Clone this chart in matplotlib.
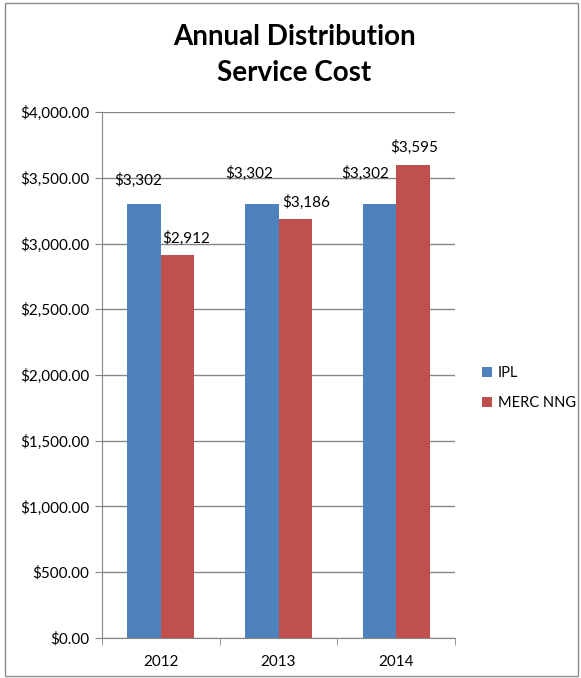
import matplotlib.pyplot as plt
import numpy as np

anos = ['2012', '2013', '2014']
ipl = [3302, 3302, 3302]
merc = [2912, 3186, 3595]
series = ['IPL', 'MERC NNG']

plt.rcParams['font.family'] = ['Lato', 'DejaVu Sans']

fig = plt.figure(figsize=(5.81, 6.78), dpi=100)
ax = fig.add_axes([0.1756, 0.059, 0.6076, 0.7758])

# borda externa do grafico
fig.patches.append(plt.Rectangle((0.008, 0.003), 0.986, 0.992, transform=fig.transFigure,
                                 fill=False, edgecolor='#8c8c8c', linewidth=1))

x = np.arange(len(anos))
w = 0.285
b1 = ax.bar(x - w / 2, ipl, w, color='#4F81BD', label=series[0], zorder=3)
b2 = ax.bar(x + w / 2, merc, w, color='#C0504D', label=series[1], zorder=3)

# rotulos (deslocamentos em pontos, como no original)
off_ipl = [(-4, 17), (-9, 22), (-10, 22)]
off_merc = [(6, 12), (8, 12), (1, 13)]
for rect, v, o in zip(b1, ipl, off_ipl):
    ax.annotate('${:,.0f}'.format(v), (rect.get_x() + rect.get_width() / 2, v),
                xytext=o, textcoords='offset points', ha='center', va='center', fontsize=11)
for rect, v, o in zip(b2, merc, off_merc):
    ax.annotate('${:,.0f}'.format(v), (rect.get_x() + rect.get_width() / 2, v),
                xytext=o, textcoords='offset points', ha='center', va='center', fontsize=11)

ax.set_xlim(-0.5, 2.5)
ax.set_ylim(0, 4000)
ax.set_yticks(np.arange(0, 4001, 500))
ax.set_yticklabels(['${:,.2f}'.format(t) for t in np.arange(0, 4001, 500)], fontsize=11)
ax.set_xticks(x)
ax.set_xticklabels(anos, fontsize=11)
ax.tick_params(axis='x', length=0, pad=12)
ax.set_xticks([-0.5, 0.5, 1.5, 2.5], minor=True)
ax.tick_params(axis='x', which='minor', length=5, color='#868686')
ax.tick_params(axis='y', length=5, color='#868686', pad=4)
ax.grid(axis='y', color='#868686', linewidth=1, zorder=0)
for s in ['top', 'right']:
    ax.spines[s].set_visible(False)
for s in ['left', 'bottom']:
    ax.spines[s].set_color('#868686')

fig.text(0.507, 0.945, 'Annual Distribution', ha='center', va='center', fontsize=20, fontweight='bold')
fig.text(0.507, 0.892, 'Service Cost', ha='center', va='center', fontsize=20, fontweight='bold')

fig.legend(loc='center left', bbox_to_anchor=(0.829, 0.428), frameon=False, fontsize=10.5,
           borderpad=0, borderaxespad=0,
           handlelength=0.7, handleheight=0.7, handletextpad=0.4, labelspacing=1.1)

plt.savefig('out.png', dpi=100)
